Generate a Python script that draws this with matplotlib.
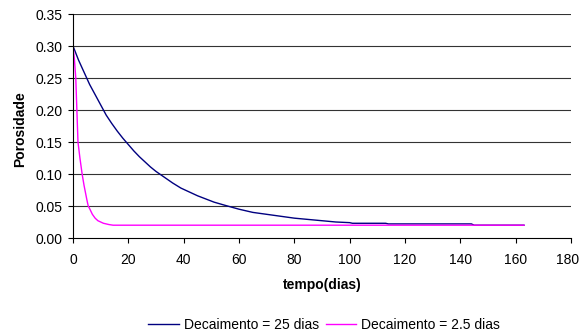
import matplotlib
matplotlib.use("Agg")
import matplotlib.pyplot as plt
import matplotlib.transforms as mtransforms

plt.rcParams['font.family'] = ['Liberation Sans', 'DejaVu Sans']

# Decaimento = 25 dias
days_25 = [0, 2, 4, 6, 8, 10, 12, 14, 16, 18, 20, 22, 24, 26, 28, 30, 33, 36, 39, 42,
           45, 48, 51, 55, 60, 65, 70, 75, 80, 85, 90, 95, 100, 101, 113, 114, 144, 145, 163]
por_25 = [0.300, 0.278, 0.259, 0.240, 0.224, 0.208, 0.192, 0.179, 0.167, 0.156, 0.146,
          0.136, 0.127, 0.119, 0.111, 0.104, 0.095, 0.086, 0.078, 0.072, 0.066, 0.061,
          0.056, 0.051, 0.045, 0.040, 0.037, 0.034, 0.031, 0.029, 0.027, 0.025, 0.024,
          0.023, 0.023, 0.022, 0.022, 0.020, 0.020]

# Decaimento = 2.5 dias
days_2_5 = [0, 0.5, 1, 1.4, 1.8, 2.5, 3.3, 4, 5, 5.5, 6, 7, 8, 9, 10, 11, 12, 13, 14.5, 163]
por_2_5 = [0.300, 0.280, 0.250, 0.200, 0.150, 0.125, 0.100, 0.082, 0.060, 0.050, 0.046,
           0.037, 0.031, 0.027, 0.025, 0.023, 0.022, 0.021, 0.020, 0.020]

x_ticks = [0, 20, 40, 60, 80, 100, 120, 140, 160, 180]
y_ticks = [0.00, 0.05, 0.10, 0.15, 0.20, 0.25, 0.30, 0.35]

fig = plt.figure(figsize=(5.81, 3.36), dpi=100)
ax = fig.add_axes([73/581, 1-238/336, (571-73)/581, (238-14)/336])

ax.plot(days_25, por_25, color='#000080', lw=1.0, label='Decaimento = 25 dias')
ax.plot(days_2_5, por_2_5, color='#FF00FF', lw=1.0, label='Decaimento = 2.5 dias')

ax.set_xlim(0, 180)
ax.set_ylim(0, 0.35)
ax.set_xticks(x_ticks)
ax.set_yticks(y_ticks)
ax.set_yticklabels([f"{v:.2f}" for v in y_ticks])
ax.tick_params(axis='both', labelsize=10, length=3.5, width=0.8, color='black', direction='out')
ax.tick_params(axis='y', pad=4)
ax.tick_params(axis='x', pad=7)
for y in y_ticks[1:]:
    ax.axhline(y, color='#333333', lw=0.8, zorder=0)
for s in ['top', 'right']:
    ax.spines[s].set_visible(False)
for s in ['left', 'bottom']:
    ax.spines[s].set_color('black')
    ax.spines[s].set_linewidth(0.8)

# keep the last x tick label inside the figure
last = ax.get_xticklabels()[-1]
last.set_transform(last.get_transform() + mtransforms.ScaledTranslation(-3/100, 0, fig.dpi_scale_trans))

fig.text(322/581, 1-285/336, 'tempo(dias)', fontsize=10, fontweight='bold',
         ha='center', va='center')
fig.text(20/581, 1-129/336, 'Porosidade', fontsize=10, fontweight='bold',
         ha='center', va='center', rotation=90)

fig.legend(loc='center', bbox_to_anchor=(324/581, 1-325/336), ncol=2, frameon=False,
           fontsize=10, handlelength=2.2, columnspacing=0.5, handletextpad=0.35)

fig.savefig('out.png', dpi=100)
